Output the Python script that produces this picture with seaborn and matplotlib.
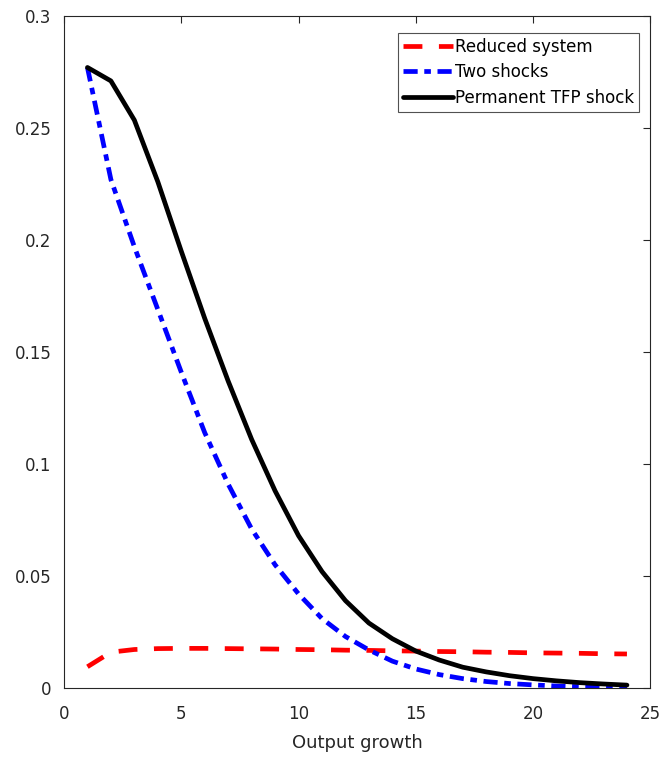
import matplotlib
matplotlib.use("Agg")
import matplotlib.pyplot as plt
import seaborn as sns
import pandas as pd

horizon = list(range(1, 25))

reduced_system = [0.0095, 0.0160, 0.0172, 0.0176, 0.0177, 0.0177, 0.0176, 0.0175,
                  0.0174, 0.0172, 0.0171, 0.0169, 0.0168, 0.0166, 0.0165, 0.0163,
                  0.0162, 0.0160, 0.0159, 0.0157, 0.0156, 0.0155, 0.0153, 0.0152]

two_shocks = [0.277, 0.227, 0.197, 0.169, 0.141, 0.114, 0.091, 0.071,
              0.055, 0.042, 0.031, 0.023, 0.017, 0.012, 0.0085, 0.006,
              0.0042, 0.0029, 0.0020, 0.0014, 0.0009, 0.0006, 0.0003, 0.0001]

permanent_tfp = [0.277, 0.271, 0.2535, 0.226, 0.195, 0.165, 0.137, 0.111,
                 0.088, 0.068, 0.052, 0.039, 0.029, 0.022, 0.0165, 0.0125,
                 0.0093, 0.0072, 0.0055, 0.0042, 0.0032, 0.0024, 0.0018, 0.0013]

series_names = ["Reduced system", "Two shocks", "Permanent TFP shock"]
x_ticks = [0, 5, 10, 15, 20, 25]
y_ticks = [0, 0.05, 0.1, 0.15, 0.2, 0.25, 0.3]
y_tick_labels = ["0", "0.05", "0.1", "0.15", "0.2", "0.25", "0.3"]
x_label = "Output growth"

sns.set_style("white")
plt.rcParams['font.family'] = ['DejaVu Sans']

fig = plt.figure(figsize=(6.63, 7.59), dpi=100)
ax = fig.add_axes([0.0965, 0.0935, 0.8845, 0.8855])

df = pd.DataFrame({"h": horizon * 3,
                   "v": reduced_system + two_shocks + permanent_tfp,
                   "s": [series_names[0]] * 24 + [series_names[1]] * 24 + [series_names[2]] * 24})

colors = {"Reduced system": "#ff0000", "Two shocks": "#0000ff", "Permanent TFP shock": "#000000"}
dashes = {"Reduced system": (4, 3.5), "Two shocks": (3, 1.4, 1.4, 1.4), "Permanent TFP shock": ""}

sns.lineplot(data=df, x="h", y="v", hue="s", style="s", palette=colors, dashes=dashes,
             linewidth=3.4, ax=ax, legend=True)

ax.set_xlim(0, 25)
ax.set_ylim(0, 0.3)
ax.set_xticks(x_ticks)
ax.set_yticks(y_ticks)
ax.set_yticklabels(y_tick_labels)
ax.set_xlabel(x_label, fontsize=13, color="#262626", labelpad=8)
ax.set_ylabel("")
ax.tick_params(direction="in", top=True, right=True, length=5, width=0.8,
               labelsize=12, colors="#262626")
ax.tick_params(axis="x", pad=12)
ax.tick_params(axis="y", pad=9)
for sp in ax.spines.values():
    sp.set_color("#262626")
    sp.set_linewidth(0.8)

leg = ax.legend(loc="upper right", bbox_to_anchor=(0.98, 0.975), fontsize=12,
                frameon=True, fancybox=False, handlelength=3.0, handletextpad=0.1,
                borderpad=0.3, labelspacing=0.45, borderaxespad=0)
leg.get_frame().set_edgecolor("#262626")
leg.get_frame().set_linewidth(0.8)
for t in leg.get_texts():
    t.set_color("#000000")

fig.savefig("out.png", dpi=100)
